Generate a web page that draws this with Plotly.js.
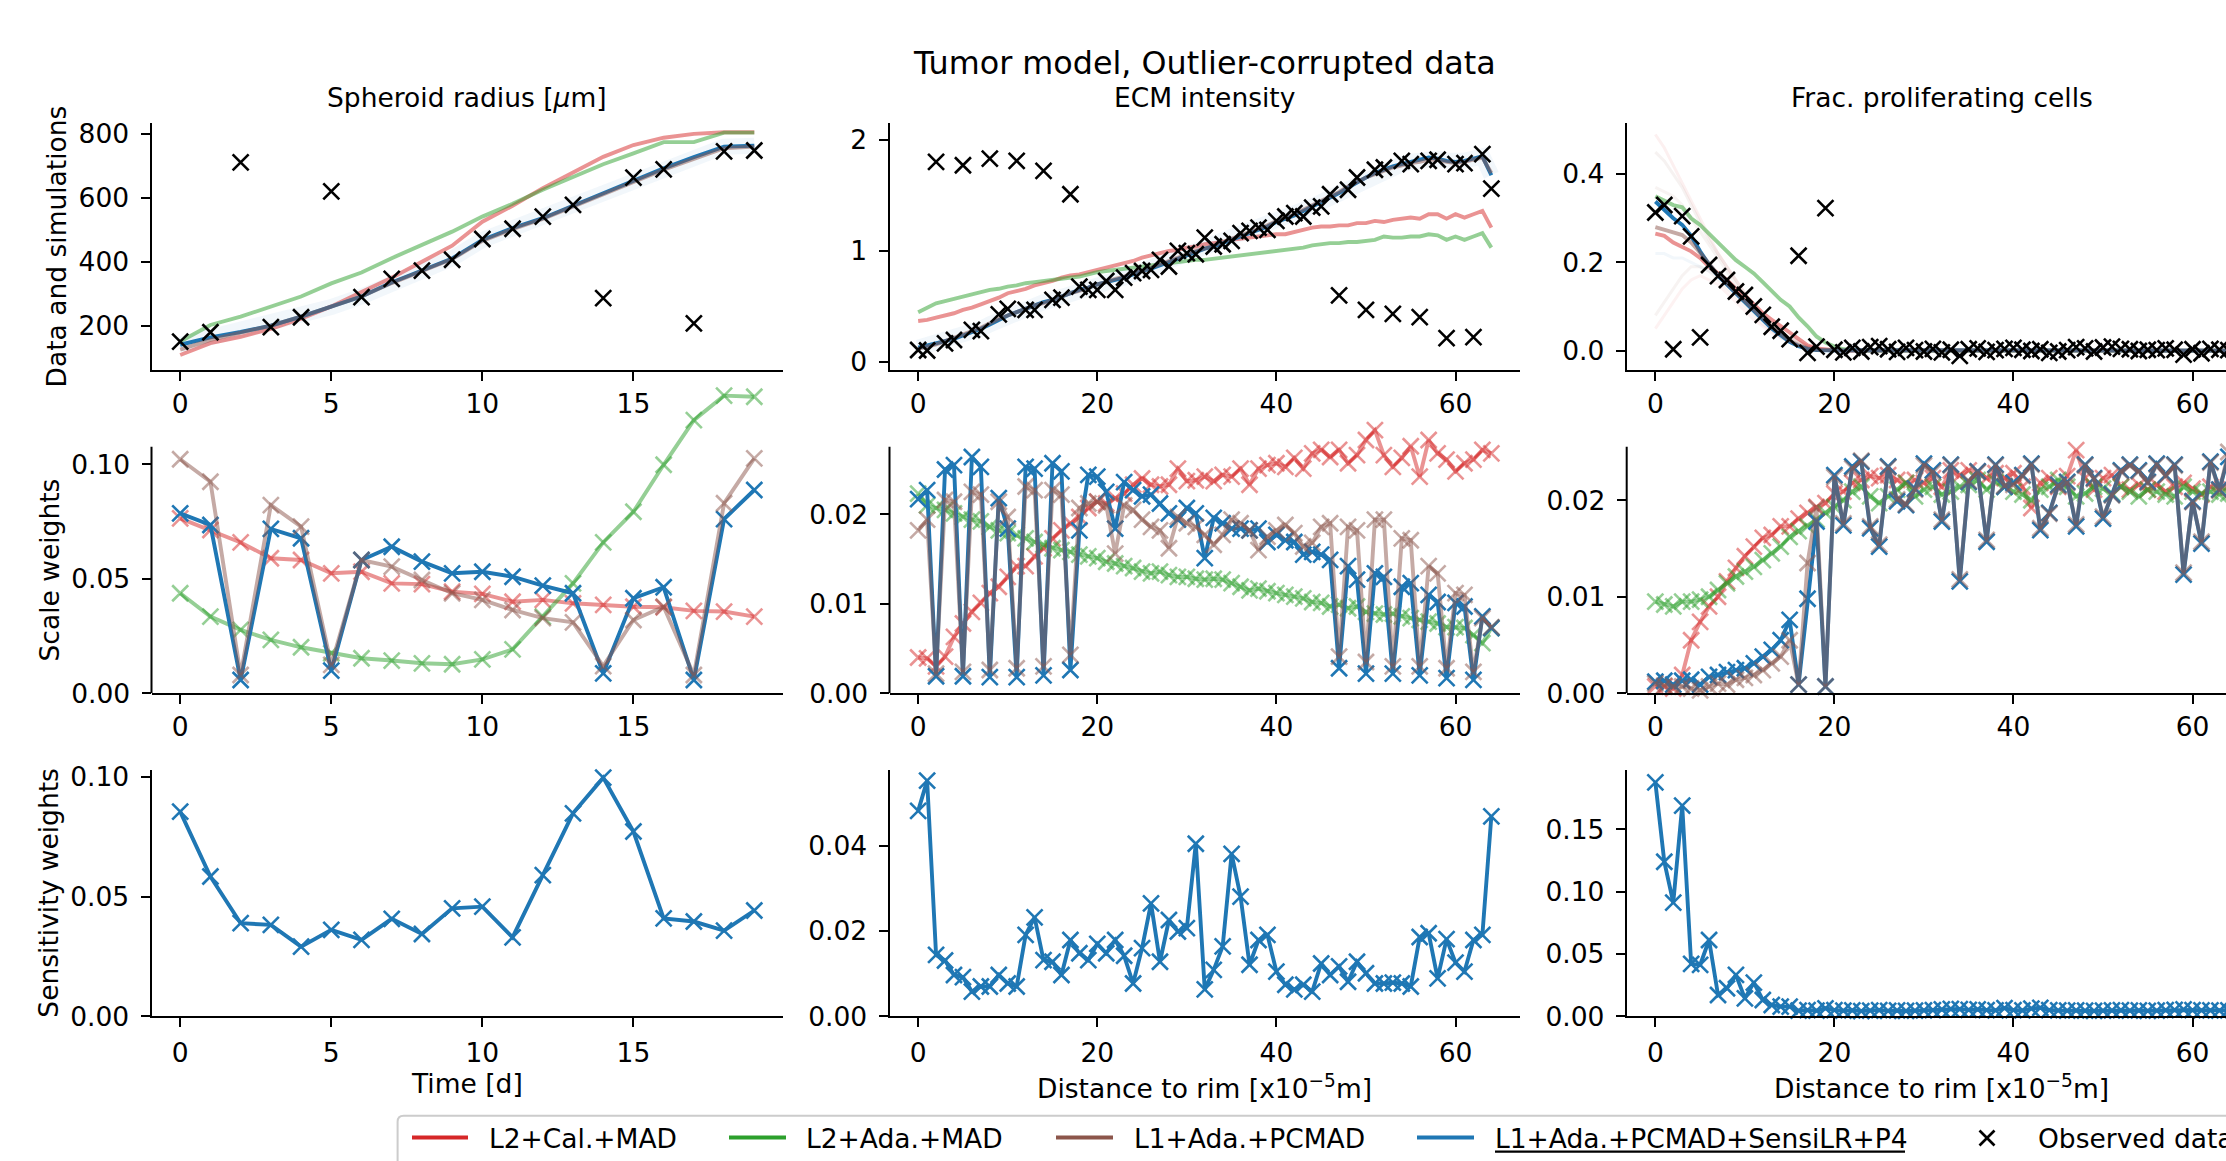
<!DOCTYPE html>
<html><head><meta charset="utf-8">
<script src="https://cdn.plot.ly/plotly-3.0.1.min.js"></script>
<style>html,body{margin:0;padding:0;overflow:hidden;background:#fff}#chart{width:2408px;height:1161px}</style>
</head><body><div id="chart"></div>
<script>
// ---------------- DATA ----------------
const xTime = [0,1,2,3,4,5,6,7,8,9,10,11,12,13,14,15,16,17,18,19];
const xDist = [0,1,2,3,4,5,6,7,8,9,10,11,12,13,14,15,16,17,18,19,20,21,22,23,24,25,26,27,28,29,30,31,32,33,34,35,36,37,38,39,40,41,42,43,44,45,46,47,48,49,50,51,52,53,54,55,56,57,58,59,60,61,62,63,64];

// Row 1: data and simulations
const radObs   = [150,179,711,195,226,620,289,346,372,406,471,503,541,578,286,663,689,207,745,748];
const radBlue  = [140,163,180,200,228,258,291,335,372,410,468,505,536,575,614,656,692,727,760,763];
const radBrown = [125,155,178,200,228,258,291,333,370,408,465,502,534,573,612,652,688,722,755,760];
const radRed   = [108,145,165,190,222,260,305,350,400,450,525,575,630,680,728,765,788,800,805,805];
const radGreen = [150,202,228,260,291,332,366,411,453,494,541,581,625,666,705,739,774,774,804,804];

const ecmObs = [0.11,0.105,1.80,0.17,0.20,1.77,0.29,0.28,1.83,0.43, 0.48,1.81,0.47,0.47,1.72,0.56,0.58,1.51,0.68,0.65,
  0.65,0.73,0.65,0.76,0.80,0.82,0.83,0.92,0.86,1.00, 0.98,0.97,1.12,1.04,1.06,1.09,1.16,1.18,1.21,1.19,
  1.27,1.31,1.34,1.31,1.39,1.40,1.51,0.60,1.55,1.66, 0.47,1.73,1.75,0.435,1.81,1.78,0.405,1.81,1.82,0.216, 1.78,1.79,0.225,1.87,1.56];
const ecmBlue = [0.13,0.15,0.17,0.19,0.21,0.24,0.27,0.30,0.34,0.38, 0.42,0.45,0.48,0.51,0.54,0.56,0.59,0.62,0.65,0.67,
  0.70,0.72,0.74,0.76,0.79,0.82,0.84,0.87,0.90,0.93, 0.96,0.99,1.02,1.04,1.07,1.10,1.13,1.16,1.19,1.22,
  1.26,1.29,1.32,1.36,1.40,1.44,1.48,1.52,1.57,1.62, 1.66,1.70,1.73,1.76,1.78,1.80,1.82,1.84,1.83,1.81, 1.80,1.81,1.83,1.85,1.68];
const ecmBrown = [0.12,0.14,0.16,0.19,0.22,0.25,0.28,0.31,0.35,0.39, 0.42,0.45,0.48,0.51,0.53,0.56,0.59,0.62,0.64,0.67,
  0.70,0.72,0.75,0.77,0.80,0.82,0.85,0.88,0.91,0.94, 0.97,1.00,1.02,1.05,1.08,1.11,1.14,1.17,1.20,1.23,
  1.27,1.30,1.33,1.37,1.41,1.45,1.49,1.53,1.58,1.62, 1.66,1.69,1.72,1.75,1.77,1.79,1.80,1.82,1.82,1.80, 1.79,1.80,1.82,1.84,1.70];
const ecmRed = [0.37,0.38,0.40,0.42,0.44,0.47,0.49,0.52,0.55,0.58, 0.62,0.64,0.66,0.69,0.71,0.73,0.76,0.78,0.79,0.81,
  0.83,0.85,0.87,0.89,0.91,0.94,0.96,0.98,1.00,1.01, 1.03,1.04,1.06,1.07,1.08,1.10,1.11,1.12,1.13,1.14,
  1.15,1.15,1.17,1.19,1.21,1.22,1.22,1.23,1.23,1.25, 1.25,1.27,1.26,1.28,1.29,1.30,1.29,1.33,1.33,1.29, 1.33,1.30,1.33,1.36,1.21];
const ecmGreen = [0.45,0.49,0.53,0.55,0.57,0.59,0.61,0.63,0.65,0.66, 0.68,0.69,0.71,0.72,0.73,0.74,0.75,0.76,0.77,0.79,
  0.81,0.82,0.83,0.84,0.85,0.86,0.87,0.88,0.89,0.90, 0.91,0.92,0.92,0.93,0.94,0.95,0.96,0.97,0.98,0.99,
  1.00,1.01,1.02,1.03,1.05,1.06,1.07,1.07,1.08,1.08, 1.09,1.10,1.13,1.12,1.12,1.13,1.13,1.15,1.14,1.10, 1.13,1.10,1.13,1.16,1.03];

const fracObs = [0.313,0.330,0.003,0.305,0.259,0.030,0.194,0.169,0.160,0.134, 0.126,0.100,0.081,0.054,0.045,0.026,0.215,-0.005,0.009,0.323,
  0.002,-0.004,0.006,-0.002,0.008,0.010,0.003,-0.003,0.006,0.001, -0.002,0.004,-0.004,0.002,-0.012,0.003,0.005,-0.003,0.001,0.004,
  0.006,0.002,-0.001,0.003,-0.005,-0.002,0.001,0.008,0.005,-0.002, 0.007,0.009,0.004,0.003,-0.001,0.002,0.001,0.005,0.002,-0.009, 0.003,-0.006,0.004,0.002,0.001];
const fracBlue = [0.338,0.320,0.300,0.285,0.260,0.225,0.195,0.170,0.150,0.130, 0.110,0.090,0.070,0.050,0.035,0.020,0.010,0.004,0.001,0.000,
  0.001,0.000,0.001,0.001,0.000,0.001,0.001,0.000,0.001,0.001, 0.000,0.001,0.000,0.001,0.000,0.001,0.001,0.000,0.001,0.000,
  0.001,0.001,0.000,0.001,0.000,0.001,0.000,0.001,0.001,0.000, 0.001,0.001,0.000,0.001,0.000,0.001,0.000,0.001,0.001,0.000, 0.001,0.000,0.001,0.001,0.000];
const fracBrown = [0.280,0.275,0.268,0.262,0.245,0.222,0.196,0.172,0.152,0.132, 0.112,0.092,0.072,0.053,0.037,0.022,0.012,0.005,0.002,0.001,
  0.001,0.001,0.000,0.001,0.001,0.000,0.001,0.001,0.000,0.001, 0.001,0.000,0.001,0.001,0.000,0.001,0.001,0.000,0.001,0.001,
  0.000,0.001,0.001,0.000,0.001,0.001,0.000,0.001,0.001,0.000, 0.001,0.001,0.000,0.001,0.001,0.000,0.001,0.001,0.000,0.001, 0.001,0.000,0.001,0.001,0.000];
const fracRed = [0.265,0.260,0.245,0.235,0.225,0.210,0.190,0.175,0.160,0.140, 0.125,0.105,0.085,0.070,0.055,0.040,0.025,0.012,0.005,0.002,
  0.001,0.000,0.000,0.001,0.000,0.000,0.001,0.000,0.000,0.001, 0.000,0.000,0.001,0.000,0.000,0.001,0.000,0.000,0.001,0.000,
  0.000,0.001,0.000,0.000,0.001,0.000,0.000,0.001,0.000,0.000, 0.001,0.000,0.000,0.001,0.000,0.000,0.001,0.000,0.000,0.001, 0.000,0.000,0.001,0.000,0.000];
const fracGreen = [0.350,0.340,0.330,0.325,0.300,0.285,0.265,0.245,0.225,0.205, 0.190,0.175,0.155,0.135,0.115,0.100,0.075,0.055,0.032,0.018,
  0.009,0.003,0.001,0.000,0.000,0.001,0.000,0.000,0.000,0.001, 0.000,0.000,0.000,0.001,0.000,0.000,0.000,0.001,0.000,0.000,
  0.000,0.001,0.000,0.000,0.000,0.001,0.000,0.000,0.000,0.001, 0.000,0.000,0.000,0.001,0.000,0.000,0.000,0.001,0.000,0.000, 0.000,0.001,0.000,0.000,0.000];
// faint simulation samples (proliferating fraction, near rim)
const fracEns1 = [0.49,0.46,0.42,0.38,0.34,0.30,0.26,0.22,0.19,0.16,0.13,0.10,0.08,0.06,0.04,0.03,0.02,0.01,0.005,0.0,0.0];
const fracEns2 = [0.45,0.43,0.40,0.37,0.33,0.29,0.25,0.22,0.19,0.16,0.13,0.10,0.08,0.06,0.045,0.03,0.02,0.01,0.005,0.0,0.0];
const fracEns3 = [0.08,0.11,0.14,0.17,0.19,0.19,0.18,0.16,0.14,0.12,0.10,0.08,0.06,0.045,0.03,0.02,0.01,0.005,0.0,0.0,0.0];
const fracEns4 = [0.05,0.08,0.11,0.14,0.16,0.17,0.16,0.15,0.13,0.11,0.09,0.07,0.055,0.04,0.03,0.02,0.01,0.005,0.0,0.0,0.0];
const fracEns5 = [0.22,0.22,0.21,0.21,0.20,0.19,0.18,0.17,0.15,0.13,0.11,0.09,0.07,0.05,0.04,0.025,0.015,0.008,0.003,0.0,0.0];
const fracEns6 = [0.37,0.36,0.35,0.33,0.30,0.27,0.24,0.21,0.18,0.15,0.12,0.10,0.08,0.06,0.04,0.03,0.02,0.01,0.005,0.0,0.0];

// Row 2: scale weights
const swRadBlue  = [0.0786,0.0735,0.0058,0.0718,0.0677,0.0099,0.0582,0.0640,0.0575,0.0524,0.0531,0.0509,0.0470,0.0437,0.0087,0.0415,0.0463,0.0058,0.0761,0.0888];
const swRadBrown = [0.1022,0.0924,0.0080,0.0822,0.0728,0.0124,0.0582,0.0553,0.0495,0.0437,0.0408,0.0364,0.0328,0.0310,0.0119,0.0320,0.0378,0.0080,0.0830,0.1026];
const swRadRed   = [0.0764,0.0713,0.0659,0.0590,0.0582,0.0524,0.0531,0.0480,0.0477,0.0444,0.0434,0.0400,0.0408,0.0393,0.0386,0.0378,0.0376,0.0360,0.0357,0.0335];
const swRadGreen = [0.0437,0.0335,0.0277,0.0233,0.0201,0.0175,0.0153,0.0143,0.0131,0.0127,0.0148,0.0192,0.0335,0.0480,0.0659,0.0793,0.0998,0.1193,0.1300,0.1295];

const swEcmBlue = [0.0217,0.0227,0.0019,0.0250,0.0255,0.0019,0.0264,0.0253,0.0018,0.0218, 0.0184,0.0018,0.0253,0.0251,0.0020,0.0257,0.0248,0.0026,0.0182,0.0244,
  0.0242,0.0225,0.0184,0.0236,0.0227,0.0220,0.0222,0.0212,0.0201,0.0194, 0.0207,0.0201,0.0151,0.0196,0.0190,0.0184,0.0184,0.0182,0.0184,0.0169,
  0.0177,0.0171,0.0169,0.0155,0.0158,0.0155,0.0149,0.0028,0.0142,0.0127, 0.0022,0.0134,0.0130,0.0022,0.0119,0.0123,0.0020,0.0110,0.0102,0.0017, 0.0101,0.0097,0.0015,0.0086,0.0073];
const swEcmBrown = [0.0182,0.0194,0.0022,0.0216,0.0214,0.0024,0.0225,0.0222,0.0026,0.0214, 0.0197,0.0028,0.0231,0.0227,0.0030,0.0227,0.0222,0.0043,0.0207,0.0212,
  0.0214,0.0210,0.0156,0.0210,0.0205,0.0194,0.0186,0.0182,0.0162,0.0197, 0.0190,0.0186,0.0177,0.0166,0.0177,0.0194,0.0190,0.0182,0.0160,0.0175,
  0.0182,0.0188,0.0179,0.0164,0.0168,0.0186,0.0190,0.0041,0.0186,0.0182, 0.0035,0.0194,0.0194,0.0030,0.0173,0.0171,0.0030,0.0142,0.0134,0.0028, 0.0112,0.0110,0.0024,0.0084,0.0074];
const swEcmRed = [0.0040,0.0039,0.0030,0.0041,0.0063,0.0078,0.0091,0.0101,0.0112,0.0119, 0.0130,0.0142,0.0142,0.0153,0.0162,0.0173,0.0182,0.0190,0.0197,0.0207,
  0.0214,0.0212,0.0218,0.0223,0.0233,0.0240,0.0233,0.0231,0.0233,0.0251, 0.0237,0.0238,0.0242,0.0237,0.0244,0.0242,0.0251,0.0233,0.0251,0.0255,
  0.0257,0.0253,0.0263,0.0251,0.0268,0.0272,0.0264,0.0272,0.0257,0.0266, 0.0283,0.0294,0.0266,0.0253,0.0263,0.0276,0.0242,0.0283,0.0268,0.0261, 0.0248,0.0257,0.0261,0.0272,0.0268];
const swEcmGreen = [0.0223,0.0210,0.0207,0.0205,0.0201,0.0197,0.0194,0.0192,0.0186,0.0182, 0.0179,0.0177,0.0173,0.0169,0.0166,0.0162,0.0160,0.0158,0.0155,0.0153,
  0.0151,0.0147,0.0145,0.0142,0.0140,0.0136,0.0134,0.0136,0.0132,0.0130, 0.0130,0.0128,0.0127,0.0128,0.0127,0.0123,0.0119,0.0115,0.0117,0.0114,
  0.0112,0.0110,0.0108,0.0106,0.0102,0.0101,0.0097,0.0099,0.0095,0.0097, 0.0091,0.0089,0.0088,0.0089,0.0086,0.0084,0.0082,0.0080,0.0078,0.0074, 0.0074,0.0073,0.0065,0.0056,0.0073];

const swFracBlue = [0.0012,0.0013,0.0009,0.0013,0.0014,0.0009,0.0017,0.0019,0.0022,0.0024, 0.0026,0.0031,0.0038,0.0045,0.0055,0.0076,0.0009,0.0098,0.0178,0.0007,
  0.0226,0.0174,0.0235,0.0240,0.0171,0.0152,0.0235,0.0199,0.0195,0.0212, 0.0238,0.0231,0.0178,0.0237,0.0116,0.0219,0.0230,0.0157,0.0237,0.0214,
  0.0218,0.0226,0.0238,0.0169,0.0187,0.0216,0.0219,0.0173,0.0237,0.0223, 0.0181,0.0206,0.0231,0.0237,0.0231,0.0219,0.0238,0.0226,0.0237,0.0123, 0.0199,0.0155,0.0240,0.0211,0.0245];
const swFracBrown = [0.0010,0.0008,0.0007,0.0007,0.0005,0.0003,0.0007,0.0010,0.0009,0.0014, 0.0016,0.0019,0.0024,0.0031,0.0038,0.0055,0.0009,0.0135,0.0192,0.0007,
  0.0224,0.0176,0.0233,0.0241,0.0173,0.0154,0.0234,0.0201,0.0196,0.0211, 0.0236,0.0229,0.0180,0.0236,0.0118,0.0220,0.0229,0.0159,0.0236,0.0215,
  0.0216,0.0225,0.0237,0.0171,0.0186,0.0215,0.0218,0.0175,0.0236,0.0222, 0.0183,0.0205,0.0230,0.0236,0.0230,0.0218,0.0237,0.0225,0.0236,0.0125, 0.0198,0.0157,0.0239,0.0210,0.0250];
const swFracRed = [0.0007,0.0007,0.0005,0.0019,0.0055,0.0074,0.0090,0.0100,0.0116,0.0130, 0.0142,0.0152,0.0161,0.0164,0.0173,0.0173,0.0181,0.0187,0.0193,0.0197,
  0.0207,0.0209,0.0218,0.0221,0.0225,0.0223,0.0226,0.0221,0.0218,0.0221, 0.0218,0.0223,0.0214,0.0231,0.0226,0.0231,0.0230,0.0223,0.0228,0.0223,
  0.0228,0.0214,0.0192,0.0218,0.0223,0.0214,0.0225,0.0252,0.0223,0.0211, 0.0223,0.0226,0.0214,0.0211,0.0216,0.0211,0.0216,0.0209,0.0214,0.0218, 0.0212,0.0206,0.0214,0.0211,0.0214];
const swFracGreen = [0.0095,0.0092,0.0090,0.0095,0.0095,0.0097,0.0100,0.0107,0.0114,0.0121, 0.0126,0.0131,0.0138,0.0145,0.0152,0.0162,0.0168,0.0173,0.0180,0.0187,
  0.0193,0.0200,0.0209,0.0214,0.0204,0.0197,0.0204,0.0211,0.0218,0.0204, 0.0211,0.0214,0.0206,0.0209,0.0214,0.0216,0.0221,0.0211,0.0219,0.0214,
  0.0209,0.0206,0.0200,0.0211,0.0214,0.0221,0.0214,0.0204,0.0207,0.0214, 0.0212,0.0207,0.0214,0.0209,0.0204,0.0211,0.0209,0.0206,0.0204,0.0214, 0.0209,0.0207,0.0209,0.0206,0.0207];

// Row 3: sensitivity weights
const senRad = [0.0855,0.0584,0.0389,0.0382,0.0291,0.0361,0.0319,0.0407,0.0344,0.0451,0.0458,0.0330,0.0590,0.0848,0.0997,0.0772,0.0409,0.0396,0.0358,0.0442];
const senEcm = [0.0482,0.0553,0.0144,0.0131,0.0097,0.0092,0.0058,0.0070,0.0070,0.0097, 0.0077,0.0070,0.0191,0.0232,0.0132,0.0128,0.0097,0.0179,0.0148,0.0132,
  0.0170,0.0148,0.0179,0.0142,0.0077,0.0160,0.0265,0.0128,0.0226,0.0199, 0.0207,0.0405,0.0063,0.0109,0.0164,0.0381,0.0281,0.0121,0.0179,0.0191,
  0.0105,0.0074,0.0063,0.0074,0.0058,0.0124,0.0097,0.0117,0.0081,0.0128, 0.0101,0.0077,0.0077,0.0079,0.0077,0.0070,0.0186,0.0195,0.0089,0.0181, 0.0126,0.0105,0.0179,0.0191,0.0469];
const senFrac = [0.1877,0.1240,0.0912,0.1690,0.0420,0.0412,0.0612,0.0171,0.0225,0.0332, 0.0144,0.0270,0.0131,0.0091,0.0078,0.0078,0.0045,0.0050,0.0045,0.0064,
  0.0050,0.0045,0.0048,0.0042,0.0046,0.0050,0.0044,0.0047,0.0043,0.0045, 0.0048,0.0050,0.0055,0.0060,0.0058,0.0052,0.0055,0.0050,0.0048,0.0065,
  0.0050,0.0047,0.0062,0.0068,0.0050,0.0047,0.0045,0.0048,0.0046,0.0043, 0.0045,0.0047,0.0049,0.0046,0.0047,0.0044,0.0046,0.0050,0.0052,0.0055, 0.0050,0.0048,0.0047,0.0046,0.0048];

// Labels
const suptitle = 'Tumor model, Outlier-corrupted data';
const colTitles = ['Spheroid radius [<i>μ</i>m]', 'ECM intensity', 'Frac. proliferating cells'];
const rowTitles = ['Data and simulations', 'Scale weights', 'Sensitivity weights'];
const xTitles = ['Time [d]', 'Distance to rim [x10<sup>−5</sup>m]', 'Distance to rim [x10<sup>−5</sup>m]'];
const legendNames = ['L2+Cal.+MAD', 'L2+Ada.+MAD', 'L1+Ada.+PCMAD', 'L1+Ada.+PCMAD+SensiLR+P4', 'Observed data'];

// ---------------- LAYOUT GEOMETRY (pixels) ----------------
const W = 2408, H = 1161;
const FONT = 'DejaVu Sans';
const FS = 26.5;
const COL = {red:'#d62728', green:'#2ca02c', brown:'#8c564b', blue:'#1f77b4'};
function rgba(hex, a){const n=parseInt(hex.slice(1),16);return `rgba(${(n>>16)&255},${(n>>8)&255},${n&255},${a})`;}
const colPx = [[151.5,783],[889.5,1520],[1626.7,2257]];
const rowPx = [[123,370],[446.7,693.3],[770,1016.3]];
const px = x => x / W;
const py = y => 1 - y / H;

const xRanges = [[-0.95,19.95],[-3.2,67.2],[-3.2,67.2]];
const xTicks = [[0,5,10,15],[0,20,40,60],[0,20,40,60]];
const yCfg = [
  [{r:[61,834],t:[200,400,600,800],f:'d'},{r:[-0.07,2.15],t:[0,1,2],f:'d'},{r:[-0.044,0.516],t:[0,0.2,0.4],f:'.1f'}],
  [{r:[0,0.1077],t:[0,0.05,0.1],f:'.2f',ext:379.6},{r:[0,0.02755],t:[0,0.01,0.02],f:'.2f',ext:420},{r:[0,0.02555],t:[0,0.01,0.02],f:'.2f',ext:437}],
  [{r:[0,0.1029],t:[0,0.05,0.1],f:'.2f'},{r:[0,0.0578],t:[0,0.02,0.04],f:'.2f'},{r:[0,0.1976],t:[0,0.05,0.1,0.15],f:'.2f'}]
];

const layout = {
  width: W, height: H, autosize: false,
  margin: {l:0,r:0,t:0,b:0},
  paper_bgcolor: '#ffffff', plot_bgcolor: 'rgba(0,0,0,0)',
  showlegend: false, hovermode: false,
  font: {family: FONT, size: FS, color: '#000'},
  shapes: [], annotations: []
};
const tickfont = {family: FONT, size: FS, color: '#000'};
for (let r = 0; r < 3; r++) {
  for (let c = 0; c < 3; c++) {
    const k = r*3 + c + 1;
    const sfx = k === 1 ? '' : String(k);
    const cfg = yCfg[r][c];
    let top = rowPx[r][0], bot = rowPx[r][1];
    let yr = cfg.r.slice();
    if (cfg.ext) { // extend plot area upward so unclipped lines stay visible
      const unit = (bot - top) / (cfg.r[1] - cfg.r[0]);
      yr = [cfg.r[0], cfg.r[0] + (bot - cfg.ext) / unit];
      top = cfg.ext;
    }
    layout['xaxis' + sfx] = {
      domain: [px(colPx[c][0]), px(colPx[c][1])], anchor: 'y' + sfx,
      range: xRanges[c], tickmode: 'array', tickvals: xTicks[c],
      showgrid: false, zeroline: false, showline: true, linecolor: '#000', linewidth: 2,
      ticks: 'outside', ticklen: 9, tickwidth: 2, tickcolor: '#000', tickfont: tickfont, ticklabelstandoff: r === 2 ? 3 : 0
    };
    layout['yaxis' + sfx] = {
      domain: [py(bot), py(top)], anchor: 'x' + sfx,
      range: yr, tickmode: 'array', tickvals: cfg.t, tickformat: cfg.f,
      showgrid: false, zeroline: false, showline: !cfg.ext, linecolor: '#000', linewidth: 2,
      ticks: 'outside', ticklen: 9, tickwidth: 2, tickcolor: '#000', tickfont: tickfont, ticklabelstandoff: 6
    };
    if (cfg.ext) {
      layout.shapes.push({type:'line', xref:'x'+sfx+' domain', yref:'y'+sfx, x0:0, x1:0, y0:cfg.r[0], y1:cfg.r[1],
        line:{color:'#000', width:2}});
    }
  }
}

// ---------------- TRACES ----------------
const traces = [];
const MS = 16;
function add(k, x, y, color, alpha, mode, width) {
  const sfx = k === 1 ? '' : String(k);
  const c = alpha < 1 ? rgba(color, alpha) : color;
  traces.push({
    x: x, y: y, xaxis: 'x' + sfx, yaxis: 'y' + sfx, type: 'scatter', mode: mode,
    line: {color: c, width: width || 3.9},
    marker: {symbol: 'x-thin', size: MS, color: c, line: {color: c, width: 2.6}},
    cliponaxis: false, hoverinfo: 'skip'
  });
}
// Row 1
const ensCols = [rgba(COL.red,0.07), rgba(COL.brown,0.08), rgba(COL.brown,0.07), rgba(COL.red,0.06), rgba(COL.blue,0.06), rgba(COL.brown,0.07)];
[fracEns1,fracEns2,fracEns3,fracEns4,fracEns5,fracEns6].forEach((e,i)=>{
  traces.push({x: xDist.slice(0, e.length), y: e, xaxis:'x3', yaxis:'y3', type:'scatter', mode:'lines',
    line:{color: ensCols[i], width: 3}, hoverinfo:'skip'});
});
// faint spread of simulations around the fitted trajectories
traces.push({x: xTime, y: radBlue, xaxis:'x', yaxis:'y', type:'scatter', mode:'lines', line:{color: rgba(COL.blue,0.06), width: 16}, hoverinfo:'skip'});
traces.push({x: xDist, y: ecmBlue, xaxis:'x2', yaxis:'y2', type:'scatter', mode:'lines', line:{color: rgba(COL.blue,0.06), width: 16}, hoverinfo:'skip'});
add(1, xTime, radRed, COL.red, 0.5, 'lines');
add(1, xTime, radGreen, COL.green, 0.5, 'lines');
add(1, xTime, radBlue, COL.blue, 1, 'lines');
add(1, xTime, radBrown, COL.brown, 0.5, 'lines');
add(1, xTime, radObs, '#000000', 1, 'markers');
add(2, xDist, ecmRed, COL.red, 0.5, 'lines');
add(2, xDist, ecmGreen, COL.green, 0.5, 'lines');
add(2, xDist, ecmBlue, COL.blue, 1, 'lines');
add(2, xDist, ecmBrown, COL.brown, 0.5, 'lines');
add(2, xDist, ecmObs, '#000000', 1, 'markers');
add(3, xDist, fracRed, COL.red, 0.5, 'lines');
add(3, xDist, fracGreen, COL.green, 0.5, 'lines');
add(3, xDist, fracBlue, COL.blue, 1, 'lines');
add(3, xDist, fracBrown, COL.brown, 0.5, 'lines');
add(3, xDist, fracObs, '#000000', 1, 'markers');
// Row 2
add(4, xTime, swRadRed, COL.red, 0.5, 'lines+markers');
add(4, xTime, swRadGreen, COL.green, 0.5, 'lines+markers');
add(4, xTime, swRadBlue, COL.blue, 1, 'lines+markers');
add(4, xTime, swRadBrown, COL.brown, 0.5, 'lines+markers');
add(5, xDist, swEcmRed, COL.red, 0.5, 'lines+markers');
add(5, xDist, swEcmGreen, COL.green, 0.5, 'lines+markers');
add(5, xDist, swEcmBlue, COL.blue, 1, 'lines+markers');
add(5, xDist, swEcmBrown, COL.brown, 0.5, 'lines+markers');
add(6, xDist, swFracRed, COL.red, 0.5, 'lines+markers');
add(6, xDist, swFracGreen, COL.green, 0.5, 'lines+markers');
add(6, xDist, swFracBlue, COL.blue, 1, 'lines+markers');
add(6, xDist, swFracBrown, COL.brown, 0.5, 'lines+markers');
// Row 3
add(7, xTime, senRad, COL.blue, 1, 'lines+markers');
add(8, xDist, senEcm, COL.blue, 1, 'lines+markers');
add(9, xDist, senFrac, COL.blue, 1, 'lines+markers');

// ---------------- TEXT ----------------
function ann(text, x, y, o) {
  layout.annotations.push(Object.assign({text: text, x: px(x), y: py(y), xref:'paper', yref:'paper',
    showarrow:false, xanchor:'center', yanchor:'middle', font:{family:FONT, size:FS, color:'#000'}}, o||{}));
}
ann(suptitle, 1204, 62, {font:{family:FONT, size:31.8, color:'#000'}});
for (let c = 0; c < 3; c++) {
  const cx = (colPx[c][0] + colPx[c][1]) / 2;
  ann(colTitles[c], cx, 98);
  ann(xTitles[c], cx, c === 0 ? 1083 : 1087);
}
const rowTitleX = [56, 48.5, 48.5];
for (let r = 0; r < 3; r++) {
  ann(rowTitles[r], rowTitleX[r], (rowPx[r][0] + rowPx[r][1]) / 2, {textangle: -90});
}

// ---------------- LEGEND (drawn manually) ----------------
(function(){
  const x0 = 397.6, y0 = 1115.7, x1 = 2250, y1 = 1168, rr = 6;
  const P = (x,y) => px(x).toFixed(6) + ',' + py(y).toFixed(6);
  const path = 'M' + P(x0+rr,y0) + ' L' + P(x1-rr,y0) + ' Q' + P(x1,y0) + ' ' + P(x1,y0+rr) +
    ' L' + P(x1,y1-rr) + ' Q' + P(x1,y1) + ' ' + P(x1-rr,y1) + ' L' + P(x0+rr,y1) + ' Q' + P(x0,y1) + ' ' + P(x0,y1-rr) +
    ' L' + P(x0,y0+rr) + ' Q' + P(x0,y0) + ' ' + P(x0+rr,y0) + ' Z';
  layout.shapes.push({type:'path', xref:'paper', yref:'paper', path: path,
    fillcolor:'rgba(255,255,255,0.8)', line:{color:'rgba(204,204,204,1)', width:2}});
  const ly = 1137.5;
  const handles = [[412,468,COL.red],[729,786,COL.green],[1056,1113,COL.brown],[1417,1474,COL.blue]];
  handles.forEach(h => layout.shapes.push({type:'line', xref:'paper', yref:'paper',
    x0:px(h[0]), x1:px(h[1]), y0:py(ly), y1:py(ly), line:{color:h[2], width:3.9}}));
  const textX = [487, 804, 1132, 1493, 2036];
  legendNames.forEach((t,i) => ann(t, textX[i], 1138, {xanchor:'left'}));
  // underline of highlighted method
  layout.shapes.push({type:'line', xref:'paper', yref:'paper', x0:px(1495), x1:px(1905), y0:py(1151.7), y1:py(1151.7),
    line:{color:'#000', width:2.2}});
  // x marker for observed data
  const mx = 1987, my = 1138, d = 7.5;
  layout.shapes.push({type:'line', xref:'paper', yref:'paper', x0:px(mx-d), x1:px(mx+d), y0:py(my-d), y1:py(my+d), line:{color:'#000', width:2.6}});
  layout.shapes.push({type:'line', xref:'paper', yref:'paper', x0:px(mx-d), x1:px(mx+d), y0:py(my+d), y1:py(my-d), line:{color:'#000', width:2.6}});
})();

Plotly.newPlot('chart', traces, layout, {staticPlot: true, displayModeBar: false});
</script>
</body></html>
